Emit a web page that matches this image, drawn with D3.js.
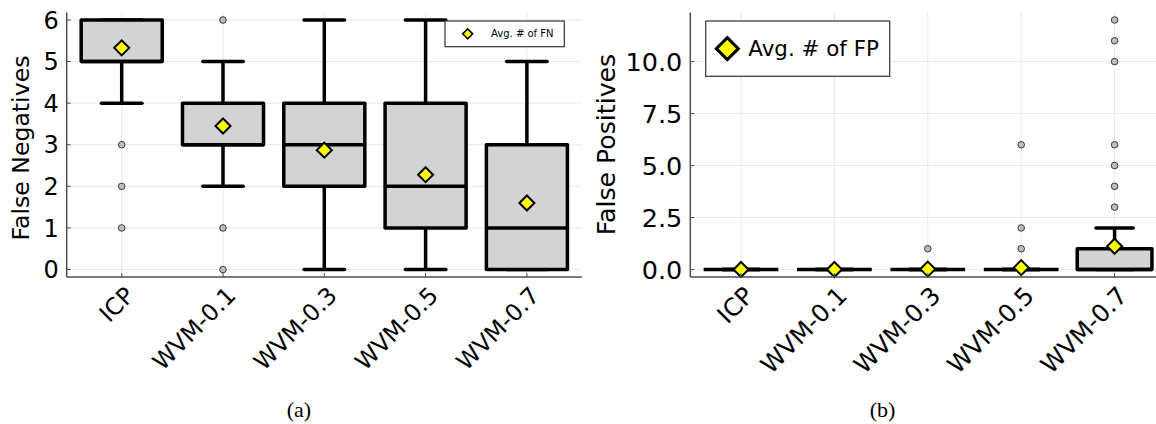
<!DOCTYPE html>
<html><head><meta charset="utf-8">
<script src="https://cdn.jsdelivr.net/npm/d3@7"></script>
<style>
html,body{margin:0;padding:0;background:#fff;}
svg{display:block;font-family:"DejaVu Sans",sans-serif;}
</style></head>
<body>
<svg id="chart" width="1156" height="424"></svg>
<script>
// ---- data ----
const categories = ["ICP","WVM-0.1","WVM-0.3","WVM-0.5","WVM-0.7"];

const fnLowerWhisker = [4,2,0,0,0];
const fnQ1           = [5,3,2,1,0];
const fnMedian       = [5,3,3,2,1];
const fnQ3           = [6,4,4,4,3];
const fnUpperWhisker = [6,5,6,6,5];
const fnOutliers     = [[3,2,1],[6,1,0],[],[],[]];
const fnMean         = [5.33,3.45,2.87,2.28,1.60];

const fpLowerWhisker = [0,0,0,0,0];
const fpQ1           = [0,0,0,0,0];
const fpMedian       = [0,0,0,0,0];
const fpQ3           = [0,0,0,0,1];
const fpUpperWhisker = [0,0,0,0,2];
const fpOutliers     = [[],[],[1],[1,2,6],[3,4,5,6,10,11,12]];
const fpMean         = [0,0,0.02,0.09,1.12];

const fnTicks = [0,1,2,3,4,5,6];
const fpTicks = [0,2.5,5,7.5,10];
const fnTickLabels = ["0","1","2","3","4","5","6"];
const fpTickLabels = ["0.0","2.5","5.0","7.5","10.0"];

const svg = d3.select("#chart");

function diamondPath(r){ return `M0,${-r}L${r},0L0,${r}L${-r},0Z`; }

function panel(opt){
  const g = svg.append("g");
  const x = d3.scalePoint().domain(categories).range(opt.xRange).padding(0.543);
  const y = d3.scaleLinear().domain(opt.yDomain).range([277,12.5]);
  const step = x.step();
  const x0 = opt.xRange[0], x1 = opt.xRange[1];

  const clipId = "clip"+opt.id;
  svg.append("clipPath").attr("id",clipId).append("rect")
    .attr("x",x0).attr("y",0).attr("width",Math.min(x1,1156)-x0).attr("height",290);

  // grid
  g.append("g").selectAll("line").data(opt.ticks).join("line")
    .attr("x1",x0).attr("x2",x1).attr("y1",d=>y(d)).attr("y2",d=>y(d))
    .attr("stroke","#e9e9e9").attr("stroke-width",1);
  g.append("g").selectAll("line").data(categories).join("line")
    .attr("x1",d=>x(d)).attr("x2",d=>x(d)).attr("y1",y.range()[1]).attr("y2",y.range()[0])
    .attr("stroke","#e9e9e9").attr("stroke-width",1);

  const body = g.append("g").attr("clip-path",`url(#${clipId})`);
  const hw = step*0.40, cw = step*0.20;
  categories.forEach((c,i)=>{
    const cx = x(c);
    body.append("line").attr("x1",cx).attr("x2",cx)
      .attr("y1",y(opt.q3[i])).attr("y2",y(opt.uw[i])).attr("stroke","#000").attr("stroke-width",3.5);
    body.append("line").attr("x1",cx).attr("x2",cx)
      .attr("y1",y(opt.q1[i])).attr("y2",y(opt.lw[i])).attr("stroke","#000").attr("stroke-width",3.5);
    body.append("line").attr("x1",cx-cw).attr("x2",cx+cw)
      .attr("y1",y(opt.uw[i])).attr("y2",y(opt.uw[i])).attr("stroke","#000").attr("stroke-width",3.5).attr("stroke-linecap","round");
    body.append("line").attr("x1",cx-cw).attr("x2",cx+cw)
      .attr("y1",y(opt.lw[i])).attr("y2",y(opt.lw[i])).attr("stroke","#000").attr("stroke-width",3.5).attr("stroke-linecap","round");
    body.append("rect").attr("x",cx-hw).attr("width",2*hw)
      .attr("y",y(opt.q3[i])).attr("height",y(opt.q1[i])-y(opt.q3[i]))
      .attr("fill","#d3d3d3").attr("stroke","#000").attr("stroke-width",3.5).attr("stroke-linejoin","round");
    body.append("line").attr("x1",cx-hw).attr("x2",cx+hw)
      .attr("y1",y(opt.med[i])).attr("y2",y(opt.med[i])).attr("stroke","#000").attr("stroke-width",3.5);
    opt.out[i].forEach(v=>{
      body.append("circle").attr("cx",cx).attr("cy",y(v)).attr("r",3.3)
        .attr("fill","#bdbdbd").attr("stroke","#3a3a3a").attr("stroke-width",1);
    });
  });
  categories.forEach((c,i)=>{
    body.append("path").attr("d",diamondPath(opt.dr))
      .attr("transform",`translate(${x(c)},${y(opt.mean[i])})`)
      .attr("fill","#ffff00").attr("stroke","#000").attr("stroke-width",2);
  });

  // axes frame
  g.append("line").attr("x1",x0).attr("x2",x0).attr("y1",12.5).attr("y2",277)
    .attr("stroke","#4d4d4d").attr("stroke-width",1.5);
  g.append("line").attr("x1",x0).attr("x2",x1).attr("y1",277).attr("y2",277)
    .attr("stroke","#4d4d4d").attr("stroke-width",1.5);
  g.append("g").selectAll("line").data(opt.ticks).join("line")
    .attr("x1",x0).attr("x2",x0+4).attr("y1",d=>y(d)).attr("y2",d=>y(d))
    .attr("stroke","#4d4d4d").attr("stroke-width",1);
  g.append("g").selectAll("line").data(categories).join("line")
    .attr("x1",d=>x(d)).attr("x2",d=>x(d)).attr("y1",277).attr("y2",273)
    .attr("stroke","#4d4d4d").attr("stroke-width",1);
  g.append("g").selectAll("text").data(opt.ticks).join("text")
    .attr("x",x0-8).attr("y",d=>y(d)).attr("dy","0.36em")
    .attr("text-anchor","end").attr("font-size",opt.fs).attr("fill","#000")
    .text((d,i)=>opt.tickLabels[i]);
  g.append("g").selectAll("text").data(categories).join("text")
    .attr("transform",d=>`translate(${x(d)+8},${277+14}) rotate(-45)`)
    .attr("text-anchor","end").attr("dy","0.36em")
    .attr("font-size",opt.xfs).attr("fill","#000").text(d=>d);
  g.append("text").attr("transform",`translate(${opt.ylx},${opt.yly}) rotate(-90)`)
    .attr("text-anchor","middle").attr("font-size",opt.yfs).attr("fill","#000").text(opt.ylabel);

  // legend
  const L = opt.legend;
  g.append("rect").attr("x",L.x).attr("y",L.y).attr("width",L.w).attr("height",L.h)
    .attr("fill","#fff").attr("stroke","#333").attr("stroke-width",1.2);
  g.append("path").attr("d",diamondPath(L.dr))
    .attr("transform",`translate(${L.mx},${L.y+L.h/2})`)
    .attr("fill","#ffff00").attr("stroke","#000").attr("stroke-width",L.sw);
  g.append("text").attr("x",L.tx).attr("y",L.y+L.h/2).attr("dy","0.36em")
    .attr("font-size",L.fs).attr("fill","#000").text(L.text);

  // caption
  svg.append("text").attr("x",opt.capX).attr("y",417)
    .attr("text-anchor","middle").style("font-family","'Liberation Serif','DejaVu Serif',serif")
    .attr("font-size",22).attr("fill","#000").text(opt.caption);
}

panel({id:"a", xRange:[66.7,581.9], yDomain:[-0.18,6.18], ticks:fnTicks, tickLabels:fnTickLabels,
  lw:fnLowerWhisker,q1:fnQ1,med:fnMedian,q3:fnQ3,uw:fnUpperWhisker,out:fnOutliers,mean:fnMean,
  dr:7.5, fs:24, xfs:23.5, yfs:23.6, ylabel:"False Negatives", ylx:28.5, yly:148,
  legend:{x:445,y:21,w:119.3,h:25.7,dr:5,sw:1.5,mx:467.7,tx:491,fs:10,text:"Avg. # of FN"},
  capX:299, caption:"(a)"});

panel({id:"b", xRange:[690.3,1165.3], yDomain:[-0.36,12.36], ticks:fpTicks, tickLabels:fpTickLabels,
  lw:fpLowerWhisker,q1:fpQ1,med:fpMedian,q3:fpQ3,uw:fpUpperWhisker,out:fpOutliers,mean:fpMean,
  dr:7.5, fs:25.5, xfs:24.5, yfs:25.2, ylabel:"False Positives", ylx:614.5, yly:144.5,
  legend:{x:705.7,y:21,w:184,h:55.3,dr:11,sw:3,mx:727.3,tx:748.3,fs:21.4,text:"Avg. # of FP"},
  capX:882.5, caption:"(b)"});
</script>
</body></html>
